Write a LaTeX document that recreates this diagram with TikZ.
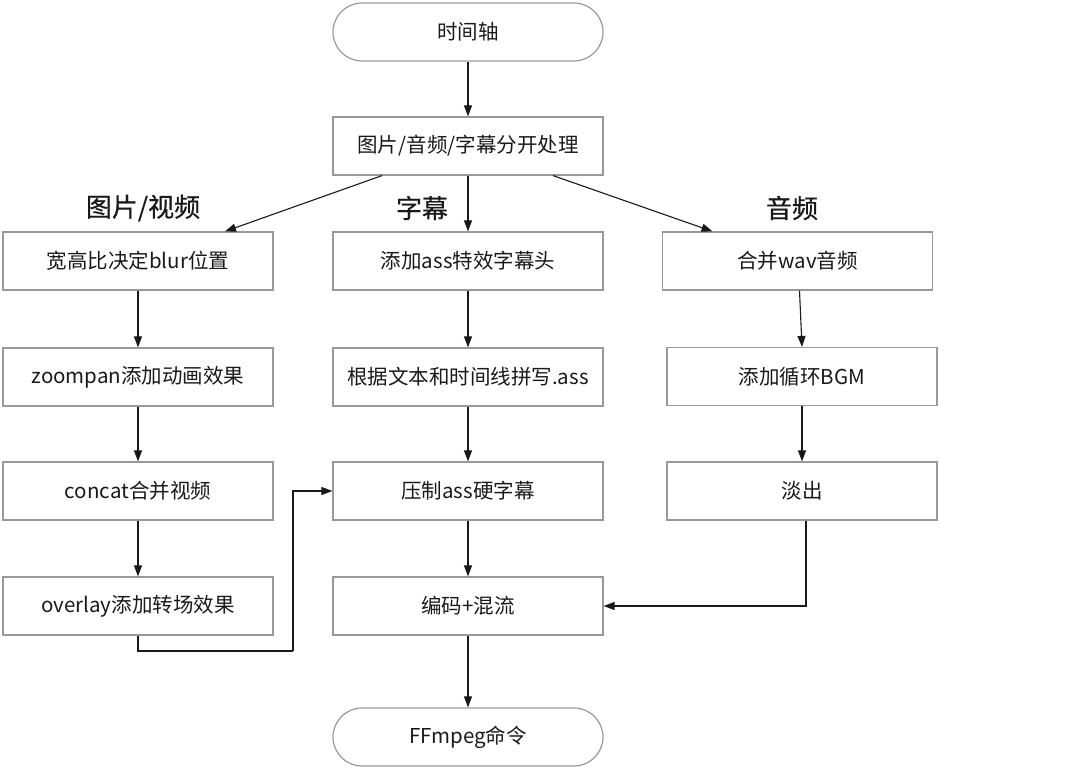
\documentclass[tikz,border=0pt]{standalone}
\usepackage{fontspec}
\setmainfont{Noto Sans CJK SC}
\newfontfamily\headfont[FakeBold=0.6]{Noto Sans CJK SC}
\usetikzlibrary{arrows.meta,calc}
\begin{document}
\begin{tikzpicture}[x=1pt,y=-1pt,
  box/.style={draw=black!40,line width=1.2pt,minimum width=270pt,minimum height=58pt,inner sep=0pt,font=\fontsize{20.5}{24}\selectfont,text=black!90},
  term/.style={box,rounded corners=29pt},
  head/.style={inner sep=0pt,font=\headfont\fontsize{26}{30}\selectfont,text=black!90},
  arr/.style={draw=black!90,line width=1.1pt,-{Triangle[length=11pt,width=8pt]}},
  ln/.style={draw=black!90,line width=1.1pt}]
\useasboundingbox (0,0) rectangle (1080,768);
\node[term] (t0) at (468,32) {时间轴};
\node[box] (p) at (468,146) {图片/音频/字幕分开处理};
\node[head] (h1) at (143,208) {图片/视频};
\node[head] (h2) at (422,208) {字幕};
\node[head] (h3) at (792,208) {音频};
\node[box] (a1) at (138,261) {宽高比决定blur位置};
\node[box] (a2) at (468,261) {添加ass特效字幕头};
\node[box] (a3) at (797.5,261) {合并wav音频};
\node[box] (b1) at (138,377) {zoompan添加动画效果};
\node[box] (b2) at (468,377) {根据文本和时间线拼写.ass};
\node[box] (b3) at (802,376.5) {添加循环BGM};
\node[box] (c1) at (138,491) {concat合并视频};
\node[box] (c2) at (468,491) {压制ass硬字幕};
\node[box] (c3) at (802,491) {淡出};
\node[box] (d1) at (138,606) {overlay添加转场效果};
\node[box] (d2) at (468,606) {编码+混流};
\node[term] (e2) at (468,737) {FFmpeg命令};
\coordinate (k) at (293,651);
\draw[arr] (t0.south) -- (p.north);
\draw[arr] ([xshift=-86pt]p.south) -- ([xshift=87pt]a1.north);
\draw[arr] (p.south) -- (a2.north);
\draw[arr] ([xshift=85pt]p.south) -- ([xshift=-85pt]a3.north);
\draw[arr] (a1.south) -- (b1.north);
\draw[arr] (b1.south) -- (c1.north);
\draw[arr] (c1.south) -- (d1.north);
\draw[arr] (a2.south) -- (b2.north);
\draw[arr] (b2.south) -- (c2.north);
\draw[arr] (c2.south) -- (d2.north);
\draw[arr] (d2.south) -- (e2.north);
\draw[arr] ([xshift=2pt]a3.south) -- (b3.north);
\draw[arr] (b3.south) -- (c3.north);
\draw[arr] ([xshift=4pt]c3.south) |- (d2.east);
\draw[ln] (d1.south) |- (k);
\draw[arr] (k) |- (c2.west);
\end{tikzpicture}
\end{document}
